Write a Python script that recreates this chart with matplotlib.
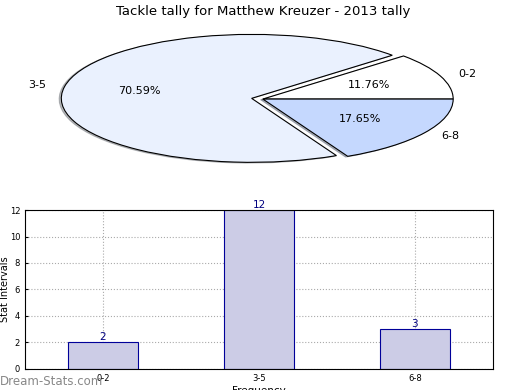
import matplotlib
matplotlib.use('Agg')
import matplotlib.pyplot as plt

# data
labels = ['0-2', '3-5', '6-8']
counts = [2, 12, 3]
pie_colors = ['#ffffff', '#eaf1fe', '#c5d8fe']

fig = plt.figure(figsize=(5.2, 3.9), dpi=100)

# === pie ===
ax1 = fig.add_axes([0.048, 0.541, 0.915, 0.41])
ax1.pie(counts, labels=labels, colors=pie_colors, autopct='%.2f%%',
        explode=(0, 0.06, 0), shadow={'ox': -0.008, 'oy': -0.008, 'shade': 0.5},
        startangle=0,
        wedgeprops=dict(edgecolor='black', linewidth=0.8),
        textprops=dict(fontsize=8))
ax1.set_aspect('auto')
ax1.set_xlim(-1.25, 1.25)
ax1.set_ylim(-1.25, 1.25)
ax1.set_title('Tackle tally for Matthew Kreuzer - 2013 tally', fontsize=9.5, pad=3)

# === bars ===
ax2 = fig.add_axes([0.048, 0.054, 0.9, 0.4075])
x = range(len(labels))
ax2.bar(x, counts, width=0.45, color='#ccccE6', edgecolor='#000099', linewidth=0.8, zorder=2)
for xi, c in zip(x, counts):
    ax2.text(xi, c, str(c), ha='center', va='bottom', color='#000080', fontsize=7.5)
ax2.set_xlim(-0.5, 2.5)
ax2.set_ylim(0, 12)
ax2.set_xticks(list(x))
ax2.set_xticklabels(labels)
ax2.set_yticks(range(0, 13, 2))
ax2.tick_params(labelsize=6, length=2, direction='in')
ax2.grid(True, linestyle=':', color='#aaaaaa', linewidth=0.8, zorder=0)
ax2.set_ylabel('Stat Intervals', fontsize=7)
ax2.yaxis.set_label_coords(-0.033, 0.5)
ax2.set_xlabel('Frequency', fontsize=7.5, labelpad=2)

fig.text(0.0, 0.012, 'Dream-Stats.com', color='#888888', fontsize=8.5)

fig.savefig('out.png', dpi=100)
